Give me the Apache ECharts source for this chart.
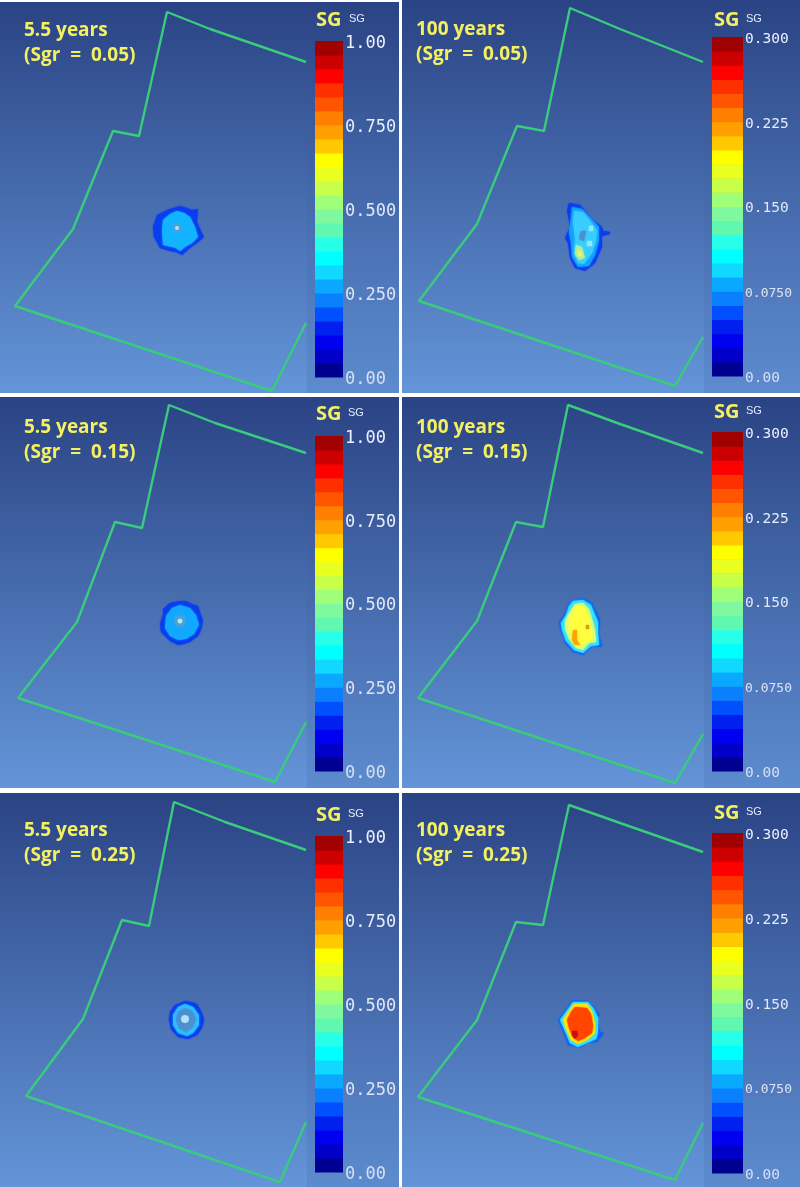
<!DOCTYPE html>
<html>
<head>
<meta charset="utf-8">
<style>
  html, body { margin: 0; padding: 0; background: #fff; }
  #main { width: 800px; height: 1187px; }
</style>
<script src="https://cdn.jsdelivr.net/npm/echarts@6/dist/echarts.min.js"></script>
</head>
<body>
<div id="main"></div>
<script>
// panel captions
const panelTitles = ['5.5 years\n(Sgr = 0.05)', '100 years\n(Sgr = 0.05)', '5.5 years\n(Sgr = 0.15)',
  '100 years\n(Sgr = 0.15)', '5.5 years\n(Sgr = 0.25)', '100 years\n(Sgr = 0.25)'];

// colour scale, bottom to top
const scaleColors = ['#000090', '#0000c8', '#0000f0', '#0020f0', '#0050ff', '#0a80ff', '#0aa8ff', '#10d8ff',
  '#00ffff', '#28ffe8', '#60f8b0', '#80f8a0', '#a0ff78', '#c8ff48', '#e8ff20', '#ffff00',
  '#ffc800', '#ffa000', '#ff8000', '#ff5500', '#ff3000', '#ff0000', '#cc0000', '#a00000'];
const levels55 = [0, 0.0417, 0.0833, 0.125, 0.1667, 0.2083, 0.25, 0.2917, 0.3333, 0.375, 0.4167, 0.4583, 0.5,
  0.5417, 0.5833, 0.625, 0.6667, 0.7083, 0.75, 0.7917, 0.8333, 0.875, 0.9167, 0.9583, 1];
const levels100 = [0, 0.0125, 0.025, 0.0375, 0.05, 0.0625, 0.075, 0.0875, 0.1, 0.1125, 0.125, 0.1375, 0.15,
  0.1625, 0.175, 0.1875, 0.2, 0.2125, 0.225, 0.2375, 0.25, 0.2625, 0.275, 0.2875, 0.3];
const ticks55 = ['0.00', '0.250', '0.500', '0.750', '1.00'];
const ticks100 = ['0.00', '0.0750', '0.150', '0.225', '0.300'];

// model boundary, one open line per panel
const boundary1 = [[306, 62], [210, 29], [167, 12], [139, 136], [113, 131], [73, 229], [15, 306], [272, 391], [306, 323]];
const boundary2 = [[703, 62], [620, 29], [570, 8], [544, 131], [517, 126], [477, 224], [419, 301], [675, 386], [703, 337]];
const boundary3 = [[306, 453], [215, 423], [169, 405], [142, 528], [115, 522], [77, 622], [18, 698], [275, 782], [306, 722]];
const boundary4 = [[703, 453], [620, 424], [568, 405], [543, 527], [516, 522], [477, 621], [418, 698], [675, 783], [703, 734]];
const boundary5 = [[306, 850], [225, 822], [174, 802], [149, 926], [122, 920], [83, 1019], [26, 1096], [280, 1182], [306, 1122]];
const boundary6 = [[703, 852], [620, 823], [569, 805], [543, 925], [516, 922], [477, 1020], [418, 1097], [675, 1180], [703, 1123]];

// gas saturation contours, outer to inner; each ring pairs with a colour below
const plume1 = [
  [[180, 206], [187, 208], [192, 210], [198, 209], [197, 222], [200, 229], [204, 237], [197, 243], [190, 248], [182, 255], [176, 252], [170, 251], [160, 248], [154, 237], [153, 227], [157, 215], [167, 210]],
  [[177, 211], [184, 213], [190, 217], [195, 227], [198, 237], [192, 243], [185, 247], [180, 251], [176, 248], [172, 247], [163, 245], [162, 230], [163, 220], [170, 214]]
];
const plume2 = [
  [[569, 203], [580, 205], [587, 213], [593, 220], [602, 227], [603, 231], [610, 232], [610, 234], [602, 236], [602, 247], [598, 256], [595, 263], [585, 271], [575, 268], [570, 258], [568, 243], [565, 238], [570, 227], [567, 210]],
  [[572, 207], [582, 209], [590, 217], [599, 227], [599, 240], [595, 255], [589, 266], [578, 267], [572, 257], [571, 243], [569, 232], [571, 218]],
  [[574, 211], [583, 212], [591, 222], [597, 230], [596, 241], [592, 253], [584, 264], [578, 263], [574, 254], [575, 237], [573, 223]],
  [[581, 231], [586, 231], [584, 241], [579, 239]],
  [[589, 226], [593, 226], [593, 231], [589, 231]],
  [[587, 241], [592, 241], [592, 246], [587, 246]],
  [[576, 245], [582, 247], [585, 258], [579, 260], [575, 254]],
  [[578, 250], [582, 253], [581, 257], [578, 255]]
];
const plume3 = [
  [[180, 601], [186, 601], [192, 604], [198, 606], [200, 612], [203, 621], [201, 630], [198, 636], [190, 642], [184, 644], [178, 645], [170, 641], [166, 637], [161, 632], [160, 624], [163, 615], [163, 609], [170, 603]],
  [[180, 605], [190, 608], [196, 615], [199, 625], [194, 634], [186, 639], [178, 640], [170, 636], [165, 628], [166, 616], [172, 608]]
];
const plume4 = [
  [[573, 600], [583, 598], [592, 603], [597, 613], [600, 620], [599, 633], [602, 647], [592, 647], [583, 655], [573, 652], [565, 643], [563, 636], [560, 630], [559, 622], [565, 613], [568, 605]],
  [[573, 601], [583, 600], [591, 605], [595, 615], [598, 622], [598, 633], [599, 645], [591, 646], [583, 653], [574, 650], [566, 641], [562, 630], [561, 623], [566, 615], [569, 606]],
  [[575, 604], [583, 603], [589, 609], [592, 619], [595, 630], [596, 642], [589, 643], [583, 650], [576, 648], [569, 639], [565, 629], [565, 621], [569, 613]],
  [[575, 607], [583, 606], [587, 613], [590, 623], [592, 633], [592, 640], [586, 642], [582, 646], [577, 645], [572, 636], [569, 628], [569, 620], [573, 613]],
  [[573, 630], [577, 630], [577, 640], [580, 645], [575, 645], [572, 640]],
  [[586, 625], [589, 625], [589, 629], [586, 629]]
];
const plume5 = [
  [[185, 1001], [191, 1002], [197, 1004], [202, 1013], [204, 1020], [202, 1028], [197, 1035], [188, 1039], [178, 1037], [171, 1029], [169, 1020], [170, 1012], [175, 1005]],
  [[185, 1004], [193, 1007], [199, 1015], [199, 1025], [193, 1033], [187, 1036], [178, 1033], [173, 1025], [173, 1015], [178, 1007]],
  [[185, 1008], [192, 1011], [196, 1018], [193, 1027], [186, 1032], [179, 1028], [176, 1020], [178, 1012]]
];
const plume6 = [
  [[573, 1000], [588, 1001], [595, 1008], [600, 1015], [597, 1018], [600, 1032], [604, 1033], [597, 1042], [588, 1043], [580, 1048], [568, 1045], [563, 1032], [558, 1020], [567, 1008]],
  [[573, 1002], [588, 1002], [594, 1009], [598, 1018], [598, 1032], [596, 1039], [587, 1043], [578, 1047], [570, 1043], [565, 1031], [560, 1020], [568, 1009]],
  [[574, 1004], [587, 1004], [592, 1011], [595, 1023], [595, 1033], [587, 1040], [578, 1044], [571, 1040], [566, 1029], [563, 1020], [569, 1011]],
  [[575, 1007], [587, 1008], [591, 1014], [593, 1025], [592, 1033], [585, 1038], [578, 1041], [573, 1037], [569, 1028], [567, 1020], [571, 1012]],
  [[572, 1031], [577, 1031], [578, 1035], [575, 1039], [572, 1035]]
];
const plumeColors1 = ['#0a3cf0', '#12b4ff'];
const plumeColors2 = ['#0a3cf0', '#12a0ff', '#38ccff', '#4d8fc8', '#90e8ff', '#90e8ff', '#a8f0a0', '#f0f060'];
const plumeColors3 = ['#0a3cf0', '#12a8ff'];
const plumeColors4 = ['#1060f0', '#30e0ff', '#d8ff70', '#ffff40', '#ffa500', '#d0a020'];
const plumeColors5 = ['#0a3cf0', '#28c0ff', '#4d8fd0'];
const plumeColors6 = ['#1060f0', '#30e0ff', '#ffe800', '#ff4500', '#c81010'];

// injection well: [x, y]
const wells = [[177, 228], null, [180, 621], null, [185, 1019], null];

const boundaries = [boundary1, boundary2, boundary3, boundary4, boundary5, boundary6];
const plumes = [plume1, plume2, plume3, plume4, plume5, plume6];
const plumeColors = [plumeColors1, plumeColors2, plumeColors3, plumeColors4, plumeColors5, plumeColors6];

// layout: panel box [x0, y0, x1, y1], colour bar box, caption, SG titles
const panelBox = [[0, 2, 399, 393], [402, 0, 800, 393], [0, 397, 399, 788], [402, 397, 800, 788], [0, 793, 399, 1187], [402, 793, 800, 1187]];
const barBox = [[315, 41, 343, 377], [712, 37, 743, 376], [315, 436, 343, 771], [712, 432, 743, 771], [315, 836, 343, 1172], [712, 833, 743, 1173]];
const captionPos = [[24, 18], [416, 17], [24, 415], [416, 415], [24, 818], [416, 818]];
const sgPos = [[316, 10], [714, 10], [316, 404], [714, 402], [316, 805], [714, 803]];
const smallSgPos = [[349, 13], [746, 13], [348, 407], [746, 405], [348, 808], [746, 806]];
const wellRing = [9, 0, 12, 0, 0, 0];
const wellDot = [4, 0, 5, 0, 8, 0];
const columnLeft = [307, 704];

const grid = [], xAxis = [], yAxis = [], series = [], title = [], graphic = [];

function ringItem(ring, color) {
  return function (params, api) {
    if (params.dataIndex !== 0) return null;
    return {
      type: 'polygon',
      shape: { points: ring.map(p => api.coord(p)) },
      // soft edge, the source image is a blurred JPEG
      style: { fill: color, shadowBlur: 2, shadowColor: color }
    };
  };
}

panelBox.forEach((box, i) => {
  const bar = barBox[i];
  const isLong = i % 2 === 1;
  const levels = isLong ? levels100 : levels55;
  const ticks = isLong ? ticks100 : ticks55;

  // map panel
  grid.push({
    left: box[0], top: box[1], width: box[2] - box[0], height: box[3] - box[1],
    show: true, borderWidth: 0,
    backgroundColor: new echarts.graphic.LinearGradient(0, 0, 0, 1, [
      { offset: 0, color: '#2a4384' },
      { offset: 1, color: '#6395d8' }
    ])
  });
  xAxis.push({ type: 'value', gridIndex: 2 * i, min: box[0], max: box[2], show: false });
  yAxis.push({ type: 'value', gridIndex: 2 * i, min: box[1], max: box[3], inverse: true, show: false });

  // the legend column is a little duller than the map towards the bottom
  graphic.push({
    type: 'rect', silent: true, z: 1,
    shape: { x: columnLeft[i % 2], y: box[1], width: box[2] - columnLeft[i % 2], height: box[3] - box[1] },
    style: {
      fill: new echarts.graphic.LinearGradient(0, 0, 0, 1, [
        { offset: 0, color: 'rgba(42,67,132,0)' },
        { offset: 1, color: 'rgba(42,67,132,0.12)' }
      ])
    }
  });

  series.push({
    type: 'line', xAxisIndex: 2 * i, yAxisIndex: 2 * i, data: boundaries[i],
    symbol: 'none', silent: true, lineStyle: { color: '#38cc7c', width: 2.4 }
  });
  plumes[i].forEach((ring, r) => {
    series.push({
      type: 'custom', xAxisIndex: 2 * i, yAxisIndex: 2 * i, data: ring, silent: true,
      renderItem: ringItem(ring, plumeColors[i][r])
    });
  });
  if (wells[i]) {
    if (wellRing[i]) {
      series.push({
        type: 'scatter', xAxisIndex: 2 * i, yAxisIndex: 2 * i, data: [wells[i]], silent: true,
        symbolSize: wellRing[i], itemStyle: { color: '#5f9cc8' }
      });
    }
    series.push({
      type: 'scatter', xAxisIndex: 2 * i, yAxisIndex: 2 * i, data: [wells[i]], silent: true,
      symbolSize: wellDot[i], itemStyle: { color: '#c8f8ff' }
    });
  }

  // colour bar
  grid.push({ left: bar[0], top: bar[1], width: bar[2] - bar[0], height: bar[3] - bar[1], show: false });
  xAxis.push({ type: 'value', gridIndex: 2 * i + 1, min: 0, max: 1, show: false });
  yAxis.push({
    type: 'value', gridIndex: 2 * i + 1, position: 'right',
    min: levels[0], max: levels[levels.length - 1], interval: levels[6],
    axisLine: { show: false }, axisTick: { show: false }, splitLine: { show: false },
    axisLabel: {
      margin: 2,
      padding: [isLong ? 4 : 5, 0, 0, 0],
      formatter: (v) => {
        const t = ticks[Math.round(v / levels[6])];
        return t === '0.0750' ? '{s|' + t + '}' : t;
      },
      fontFamily: 'DejaVu Sans Mono', color: '#eef3ff', fontSize: isLong ? 14.5 : 17,
      rich: { s: { fontFamily: 'DejaVu Sans Mono', color: '#eef3ff', fontSize: 13 } }
    }
  });
  series.push({
    type: 'custom', xAxisIndex: 2 * i + 1, yAxisIndex: 2 * i + 1, silent: true,
    data: scaleColors.map((c, k) => [levels[k], levels[k + 1]]),
    renderItem: (params, api) => {
      const lo = api.coord([0, api.value(0)]);
      const hi = api.coord([1, api.value(1)]);
      return {
        type: 'rect',
        shape: { x: lo[0], y: hi[1], width: hi[0] - lo[0], height: lo[1] - hi[1] + 0.5 },
        style: { fill: scaleColors[params.dataIndex] }
      };
    }
  });

  const captionStyle = { fontFamily: 'Open Sans', fontWeight: 'bold', fontSize: 19, lineHeight: 25, color: '#f4f060' };
  title.push({
    // the original sets the equals sign with wide gaps
    text: panelTitles[i].replace('=', '{e|=}'), left: captionPos[i][0], top: captionPos[i][1], padding: 0,
    textStyle: Object.assign({}, captionStyle, { rich: { e: Object.assign({}, captionStyle, { padding: [0, 5] }) } })
  });
  title.push({
    text: 'SG', left: sgPos[i][0], top: sgPos[i][1], padding: 0,
    textStyle: { fontFamily: 'Noto Sans', fontWeight: 'bold', fontSize: 20, lineHeight: 20, color: '#f4f060' }
  });
  title.push({
    text: 'SG', left: smallSgPos[i][0], top: smallSgPos[i][1], padding: 0,
    textStyle: { fontFamily: 'Liberation Sans Narrow, Liberation Sans', fontWeight: 'normal', fontSize: 11, lineHeight: 12, color: '#e6eeff' }
  });
});

const chart = echarts.init(document.getElementById('main'));
chart.setOption({ animation: false, backgroundColor: '#fff', title, grid, xAxis, yAxis, series, graphic });
</script>
</body>
</html>
